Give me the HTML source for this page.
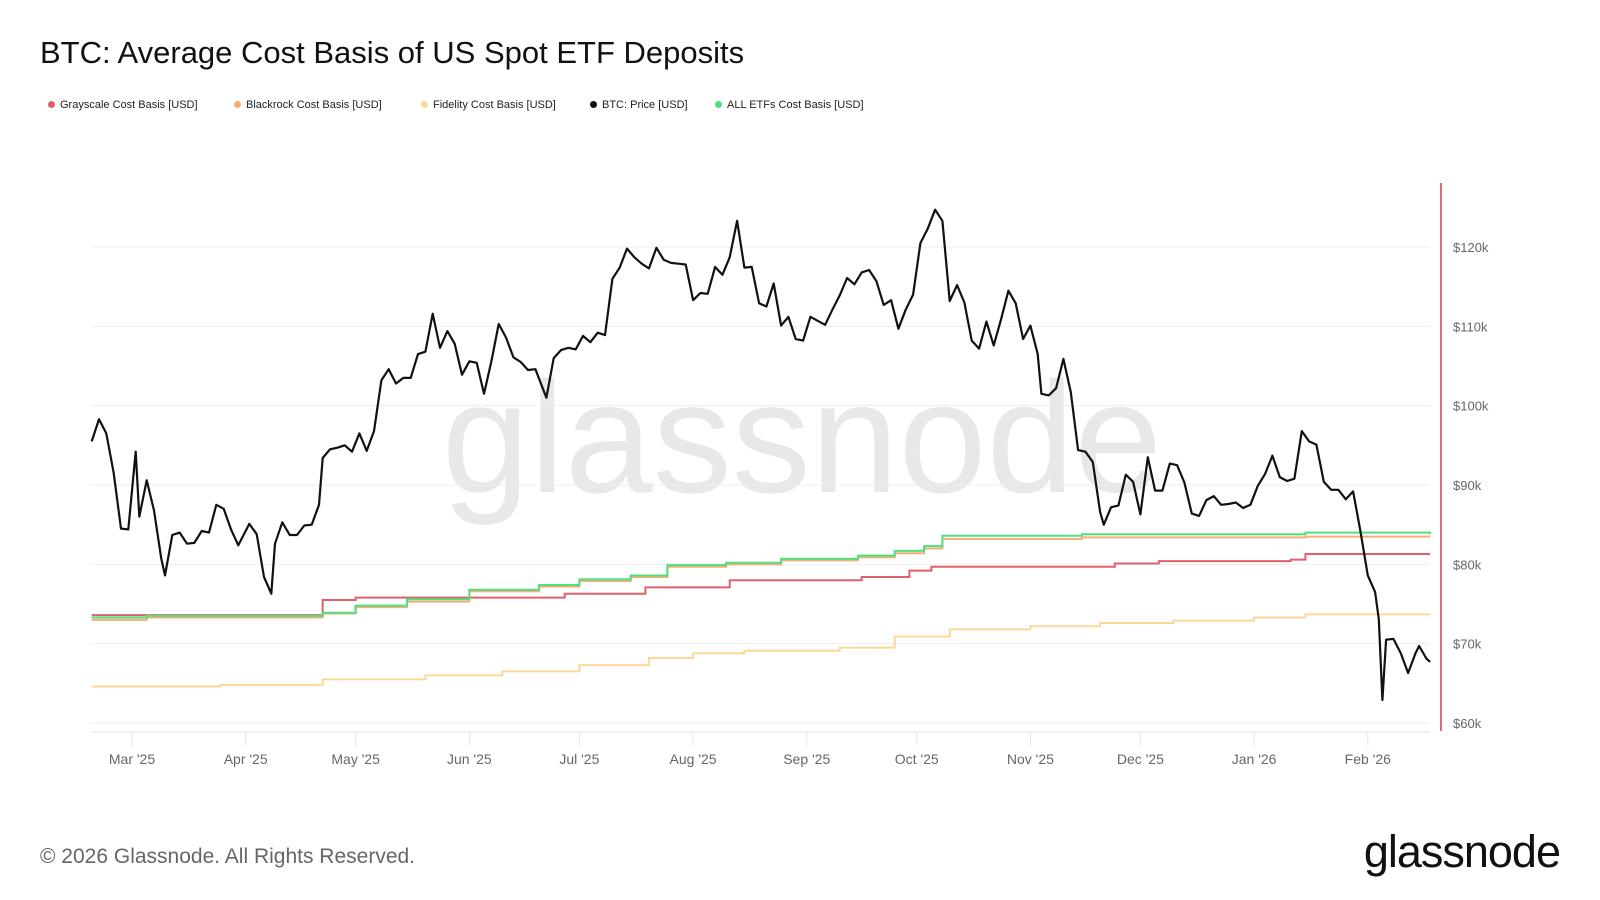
<!DOCTYPE html>
<html><head><meta charset="utf-8">
<style>
html,body{margin:0;padding:0;background:#fff;}
body{width:1600px;height:900px;position:relative;overflow:hidden;font-family:"Liberation Sans",sans-serif;}
#title{position:absolute;left:40px;top:35px;font-size:31px;color:#111;}
.leg{position:absolute;top:99px;font-size:11px;color:#222;white-space:nowrap;}
.leg i{display:inline-block;width:7px;height:7px;border-radius:50%;margin-right:5px;vertical-align:0px;}
#foot{position:absolute;left:40px;top:845px;font-size:21px;color:#666;}
#logo{position:absolute;right:40px;top:826px;font-size:45px;color:#111;letter-spacing:-1px;}
</style></head><body>
<div id="title">BTC: Average Cost Basis of US Spot ETF Deposits</div>
<div class="leg" style="left:48px"><i style="background:#e0606e"></i>Grayscale Cost Basis [USD]</div>
<div class="leg" style="left:234px"><i style="background:#f6ad76"></i>Blackrock Cost Basis [USD]</div>
<div class="leg" style="left:421px"><i style="background:#fbd89a"></i>Fidelity Cost Basis [USD]</div>
<div class="leg" style="left:590px"><i style="background:#111"></i>BTC: Price [USD]</div>
<div class="leg" style="left:715px"><i style="background:#4ee07e"></i>ALL ETFs Cost Basis [USD]</div>
<svg id="chart" width="1600" height="900" style="position:absolute;left:0;top:0"></svg>
<div id="foot">© 2026 Glassnode. All Rights Reserved.</div>
<div id="logo">glassnode</div>
<script>
const yTicks=[60,70,80,90,100,110,120];
const monthLabels=["Mar '25","Apr '25","May '25","Jun '25","Jul '25","Aug '25","Sep '25","Oct '25","Nov '25","Dec '25","Jan '26","Feb '26"];
const monthDates=["2025-03-01","2025-04-01","2025-05-01","2025-06-01","2025-07-01","2025-08-01","2025-09-01","2025-10-01","2025-11-01","2025-12-01","2026-01-01","2026-02-01"];
const btcDates=["2025-02-18","2025-02-20","2025-02-22","2025-02-24","2025-02-26","2025-02-28","2025-03-02","2025-03-03","2025-03-05","2025-03-07","2025-03-09","2025-03-10","2025-03-12","2025-03-14","2025-03-16","2025-03-18","2025-03-20","2025-03-22","2025-03-24","2025-03-26","2025-03-28","2025-03-30","2025-04-02","2025-04-04","2025-04-06","2025-04-08","2025-04-09","2025-04-11","2025-04-13","2025-04-15","2025-04-17","2025-04-19","2025-04-21","2025-04-22","2025-04-24","2025-04-26","2025-04-28","2025-04-30","2025-05-02","2025-05-04","2025-05-06","2025-05-08","2025-05-10","2025-05-12","2025-05-14","2025-05-16","2025-05-18","2025-05-20","2025-05-22","2025-05-24","2025-05-26","2025-05-28","2025-05-30","2025-06-01","2025-06-03","2025-06-05","2025-06-07","2025-06-09","2025-06-11","2025-06-13","2025-06-15","2025-06-17","2025-06-19","2025-06-21","2025-06-22","2025-06-24","2025-06-26","2025-06-28","2025-06-30","2025-07-02","2025-07-04","2025-07-06","2025-07-08","2025-07-10","2025-07-12","2025-07-14","2025-07-16","2025-07-18","2025-07-20","2025-07-22","2025-07-24","2025-07-26","2025-07-28","2025-07-30","2025-08-01","2025-08-03","2025-08-05","2025-08-07","2025-08-09","2025-08-11","2025-08-13","2025-08-15","2025-08-17","2025-08-19","2025-08-21","2025-08-23","2025-08-25","2025-08-27","2025-08-29","2025-08-31","2025-09-02","2025-09-04","2025-09-06","2025-09-08","2025-09-10","2025-09-12","2025-09-14","2025-09-16","2025-09-18","2025-09-20","2025-09-22","2025-09-24","2025-09-26","2025-09-28","2025-09-30","2025-10-02","2025-10-04","2025-10-06","2025-10-08","2025-10-10","2025-10-12","2025-10-14","2025-10-16","2025-10-18","2025-10-20","2025-10-22","2025-10-24","2025-10-26","2025-10-28","2025-10-30","2025-11-01","2025-11-03","2025-11-04","2025-11-06","2025-11-08","2025-11-10","2025-11-12","2025-11-14","2025-11-16","2025-11-18","2025-11-20","2025-11-21","2025-11-23","2025-11-25","2025-11-27","2025-11-29","2025-12-01","2025-12-03","2025-12-05","2025-12-07","2025-12-09","2025-12-11","2025-12-13","2025-12-15","2025-12-17","2025-12-19","2025-12-21","2025-12-23","2025-12-25","2025-12-27","2025-12-29","2025-12-31","2026-01-02","2026-01-04","2026-01-06","2026-01-08","2026-01-10","2026-01-12","2026-01-14","2026-01-16","2026-01-18","2026-01-20","2026-01-22","2026-01-24","2026-01-26","2026-01-28","2026-01-30","2026-02-01","2026-02-03","2026-02-04","2026-02-05","2026-02-06","2026-02-08","2026-02-10","2026-02-12","2026-02-14","2026-02-15","2026-02-17","2026-02-18"];
const btcPrice=[95.5,98.3,96.5,91.5,84.5,84.4,94.2,86,90.6,86.8,80.7,78.6,83.7,84,82.6,82.7,84.2,84,87.5,87,84.4,82.4,85.1,83.8,78.4,76.3,82.6,85.3,83.7,83.7,84.9,85,87.5,93.4,94.5,94.7,95,94.2,96.5,94.3,96.8,103.2,104.6,102.8,103.5,103.5,106.5,106.8,111.6,107.3,109.4,107.8,103.9,105.6,105.4,101.5,105.6,110.3,108.6,106.1,105.5,104.5,104.6,102.2,101,106,107,107.3,107.1,108.8,108,109.2,108.9,116,117.4,119.8,118.7,117.9,117.3,119.9,118.4,118,117.9,117.8,113.3,114.2,114.1,117.5,116.5,118.7,123.3,117.4,117.5,112.9,112.5,115.4,110.1,111.2,108.4,108.2,111.2,110.7,110.2,112.1,113.9,116.1,115.3,116.8,117.1,115.7,112.7,113.3,109.7,112.1,114,120.5,122.3,124.7,123.3,113.2,115.2,113,108.2,107.2,110.6,107.6,110.9,114.5,112.9,108.4,110.1,106.5,101.5,101.3,102.2,105.9,101.7,94.4,94.2,92.9,86.6,85,87.2,87.4,91.3,90.4,86.3,93.5,89.3,89.3,92.7,92.5,90.3,86.4,86.1,88.1,88.6,87.5,87.6,87.8,87.1,87.5,89.9,91.4,93.7,91,90.5,90.8,96.8,95.5,95.1,90.4,89.4,89.4,88.2,89.2,84.2,78.6,76.5,73.1,62.9,70.5,70.6,68.8,66.3,68.8,69.7,68.1,67.7];
const grayDates=["2025-02-18","2025-04-22","2025-05-01","2025-06-27","2025-07-19","2025-08-11","2025-09-16","2025-09-29","2025-10-05","2025-11-24","2025-12-06","2026-01-11","2026-01-15","2026-02-18"];
const grayVals=[73.6,75.5,75.8,76.3,77.1,78.0,78.4,79.2,79.7,80.1,80.4,80.6,81.3,81.3];
const etfDates=["2025-02-18","2025-03-05","2025-04-22","2025-05-01","2025-05-15","2025-06-01","2025-06-20","2025-07-01","2025-07-15","2025-07-25","2025-08-10","2025-08-25","2025-09-15","2025-09-25","2025-10-03","2025-10-08","2025-11-15","2026-01-15","2026-02-18"];
const blackVals=[73.0,73.3,73.8,74.6,75.3,76.6,77.2,77.9,78.4,79.7,80.0,80.5,80.9,81.4,82.0,83.2,83.4,83.5,83.5];
const allVals=[73.3,73.5,73.9,74.8,75.6,76.8,77.4,78.1,78.6,79.9,80.2,80.7,81.1,81.7,82.3,83.6,83.8,84.0,83.8];
const fidDates=["2025-02-18","2025-03-25","2025-04-22","2025-05-20","2025-06-10","2025-07-01","2025-07-20","2025-08-01","2025-08-15","2025-09-10","2025-09-25","2025-10-10","2025-11-01","2025-11-20","2025-12-10","2026-01-01","2026-01-15","2026-02-18"];
const fidVals=[64.6,64.8,65.5,66.0,66.5,67.3,68.2,68.8,69.1,69.5,70.9,71.8,72.2,72.6,72.9,73.3,73.7,73.7];

const NS="http://www.w3.org/2000/svg";
const svg=document.getElementById('chart');
const T0=Date.UTC(2025,2,1);
function xOf(ds){const p=ds.split('-');const t=Date.UTC(+p[0],+p[1]-1,+p[2]);return 132+(t-T0)/86400000*3.667;}
function yOf(v){return 723-(v-60)*7.933;}
function mk(tag,attrs){const e=document.createElementNS(NS,tag);for(const k in attrs)e.setAttribute(k,attrs[k]);svg.appendChild(e);return e;}

let wm=mk('text',{x:802,y:492,'text-anchor':'middle','font-size':158,'font-family':'Liberation Sans, sans-serif',fill:'#e8e8e8'});
wm.textContent='glassnode';



yTicks.forEach(v=>{
  const g=mk('line',{x1:91,x2:1430,y1:yOf(v),y2:yOf(v),stroke:'#eeeeee','stroke-width':1});
  
  
  const t=mk('text',{x:1453,y:yOf(v)+5,'font-size':13,fill:'#666','font-family':'Liberation Sans, sans-serif'});
  t.textContent='$'+v+'k';
  
  
});
let ax=mk('line',{x1:91,x2:1430,y1:732,y2:732,stroke:'#e3e6ea','stroke-width':1});


monthDates.forEach((d,i)=>{
  const x=xOf(d);
  const tk=mk('line',{x1:x,x2:x,y1:732,y2:746,stroke:'#e3e6ea'});
  
  
  const t=mk('text',{x:x,y:764,'text-anchor':'middle','font-size':14,fill:'#666','font-family':'Liberation Sans, sans-serif'});
  t.textContent=monthLabels[i];
  
  
});
let ra=mk('line',{x1:1441,x2:1441,y1:183,y2:731,stroke:'#e06b78','stroke-width':2});



function stepPath(dates,vals){let d='';for(let i=0;i<dates.length;i++){const x=xOf(dates[i]),y=yOf(vals[i]);if(i===0)d+='M'+x+','+y;else d+='H'+x+'V'+y;}return d;}
function linePath(dates,vals){return dates.map((dd,i)=>(i?'L':'M')+xOf(dd).toFixed(1)+','+yOf(vals[i]).toFixed(1)).join('');}

let pf=mk('path',{d:stepPath(fidDates,fidVals),fill:'none',stroke:'#fbd89a','stroke-width':2});


let pg=mk('path',{d:stepPath(grayDates,grayVals),fill:'none',stroke:'#e0606e','stroke-width':2});


let pb=mk('path',{d:stepPath(etfDates,blackVals),fill:'none',stroke:'#f6ad76','stroke-width':2});


let pa=mk('path',{d:stepPath(etfDates,allVals),fill:'none',stroke:'#4ee07e','stroke-width':2});


let pp=mk('path',{d:linePath(btcDates,btcPrice),fill:'none',stroke:'#111','stroke-width':2.2,'stroke-linejoin':'round'});


</script>
</body></html>
